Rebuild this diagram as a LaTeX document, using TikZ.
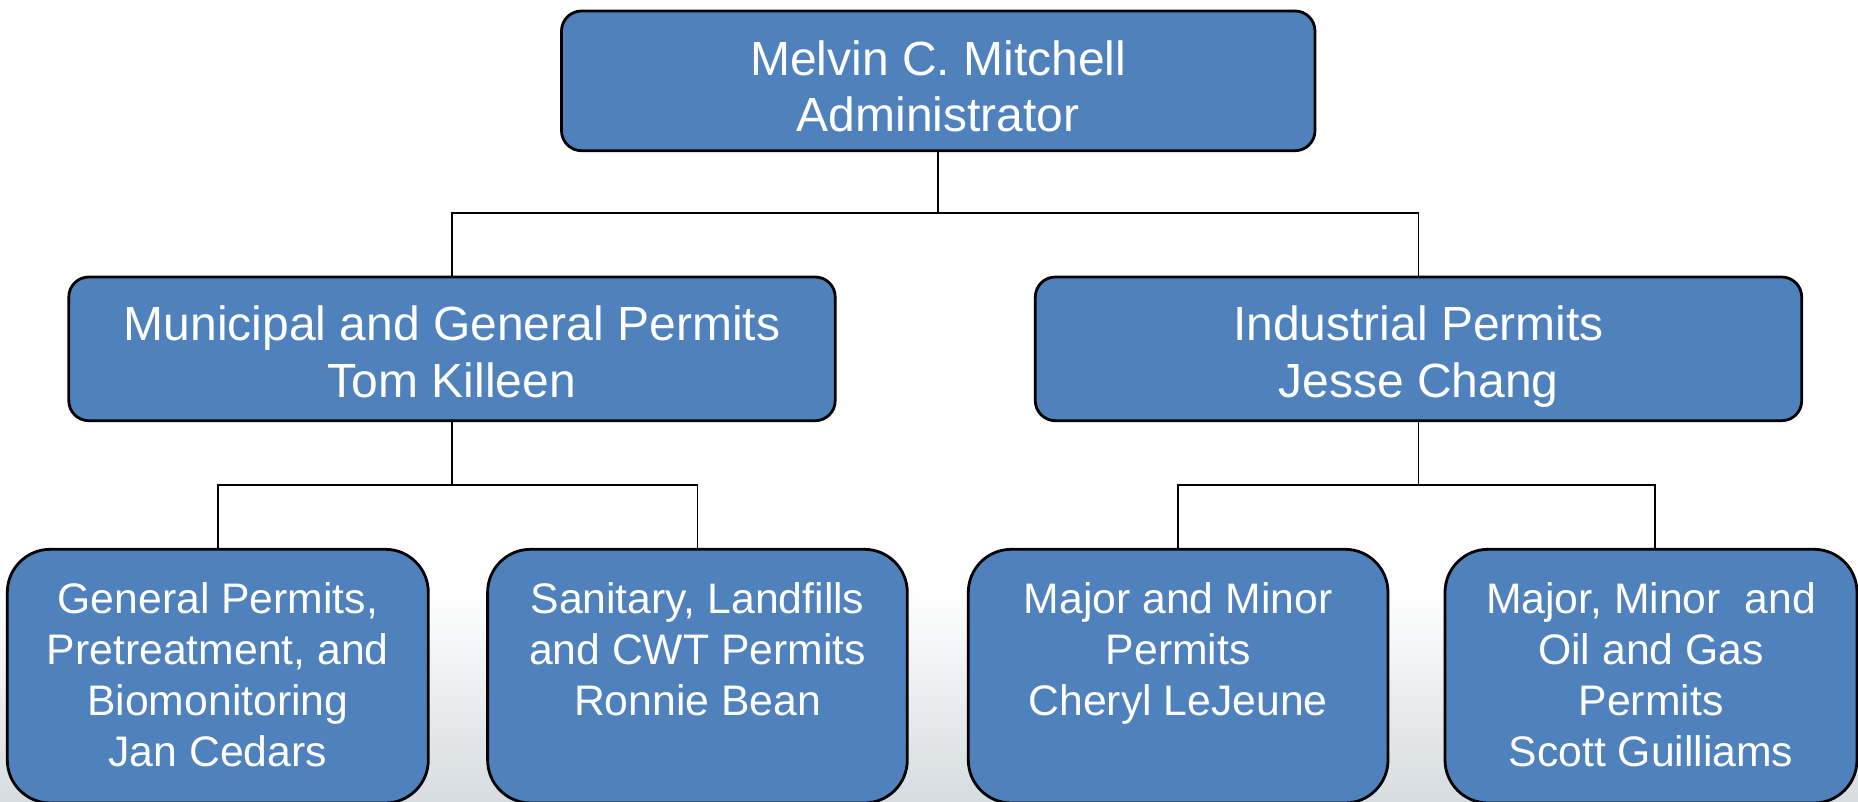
\documentclass[tikz,border=0pt]{standalone}
\usepackage{fontspec}
\setmainfont{Liberation Sans}
\definecolor{boxblue}{RGB}{79,129,189}
\definecolor{bggray}{RGB}{214,220,224}
\tikzset{
  orgbox/.style={draw=black, line width=2.8pt, fill=boxblue, inner sep=0pt,
    align=center, text=white},
  upperbox/.style={orgbox, rounded corners=20pt, font=\fontsize{48}{56.7}\selectfont,
    minimum width=766.4pt, minimum height=143.7pt, text height=115pt, text depth=17.9pt},
  lowerbox/.style={orgbox, rounded corners=43pt, font=\fontsize{42.7}{51}\selectfont,
    minimum width=419.7pt, minimum height=253.7pt},
  fourlines/.style={text height=200pt, text depth=19.7pt},
  threelines/.style={text height=149pt, text depth=70.7pt},
  conn/.style={draw=black, line width=1.8pt}
}
\begin{document}
\begin{tikzpicture}[x=1pt,y=-1pt]
  \useasboundingbox (0,0) rectangle (1858,801);
  \fill[white] (0,0) rectangle (1858,801);
  \shade[top color=white, bottom color=bggray] (0,590) rectangle (1858,801);

  % connector junctions
  \coordinate (j1) at (938.25,213);
  \coordinate (j2) at (452,485);
  \coordinate (j3) at (1418.5,485);

  % nodes
  \node[orgbox, rounded corners=20pt, font=\fontsize{48}{56.7}\selectfont,
        minimum width=753.5pt, minimum height=139.7pt, text height=120pt, text depth=18.3pt]
        (top) at (938.25,80.85) {Melvin C. Mitchell\\Administrator};
  \node[upperbox] (mun) at (452,348.85) {Municipal and General Permits\\Tom Killeen};
  \node[upperbox] (ind) at (1418.5,348.85) {Industrial Permits\\Jesse Chang};

  \node[lowerbox, fourlines, minimum width=421pt] (gp) at (217.8,676.15)
    {General Permits,\\Pretreatment, and\\Biomonitoring\\Jan Cedars};
  \node[lowerbox, threelines] (san) at (697.45,676.15)
    {Sanitary, Landfills\\and CWT Permits\\Ronnie Bean};
  \node[lowerbox, threelines] (maj) at (1178.15,676.15)
    {Major and Minor\\Permits\\Cheryl LeJeune};
  \node[lowerbox, fourlines, minimum width=412pt] (oil) at (1651,676.15)
    {Major, Minor\ \ and\\Oil and Gas\\Permits\\Scott Guilliams};

  % connectors
  \draw[conn] (top.south) -- (j1);
  \draw[conn] (mun.north) |- (j1) -| (ind.north);
  \draw[conn] (mun.south) -- (j2);
  \draw[conn] (gp.north) |- (j2) -| (san.north);
  \draw[conn] (ind.south) -- (j3);
  \draw[conn] (maj.north) |- (j3) -| ([xshift=4pt]oil.north);
\end{tikzpicture}
\end{document}
